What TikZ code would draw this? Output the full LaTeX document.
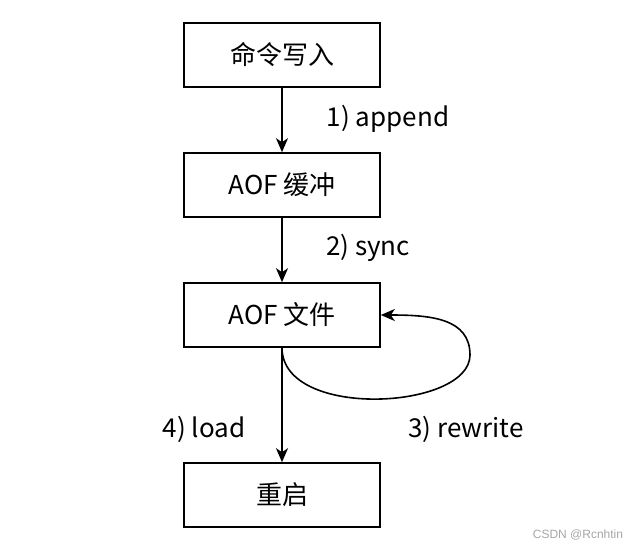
\documentclass[tikz,border=0pt]{standalone}
\usepackage{fontspec}
\setmainfont{Noto Sans CJK SC}
\newfontfamily\wmfont{Liberation Sans}
\usetikzlibrary{arrows.meta}
\begin{document}
\begin{tikzpicture}[x=1pt,y=-1pt,
  box/.style={draw,line width=1.6pt,minimum width=196pt,minimum height=64pt,inner sep=0pt,font=\fontsize{26}{30}\selectfont},
  lbl/.style={font=\fontsize{26}{30}\selectfont,inner sep=0pt},
  conn/.style={line width=1.6pt,-{Stealth[length=14pt,width=12pt,inset=4pt]}}]
\useasboundingbox (0,0) rectangle (638,550);
\node[box] (b1) at (282,55) {命令写入};
\node[box] (b2) at (282,185) {AOF 缓冲};
\node[box] (b3) at (282,315) {AOF 文件};
\node[box] (b4) at (282,495) {重启};
\draw[conn] (b1) -- (b2);
\draw[conn] (b2) -- (b3);
\draw[conn] (b3) -- (b4);
\coordinate (r) at (470,355);
\draw[conn] (b3.south) .. controls (282,420) and (470,410) .. (r) .. controls (470,318) and (430,315) .. (b3.east);
\node[lbl] (l1) at (388,119) {1) append};
\node[lbl] (l2) at (368,248) {2) sync};
\node[lbl] (l4) at (204,429) {4) load};
\node[lbl] (l3) at (466,429) {3) rewrite};
\node[font=\wmfont\fontsize{12}{14}\selectfont,text=gray!70,inner sep=0pt] (wm) at (578,535) {CSDN @Rcnhtin};
\end{tikzpicture}
\end{document}
